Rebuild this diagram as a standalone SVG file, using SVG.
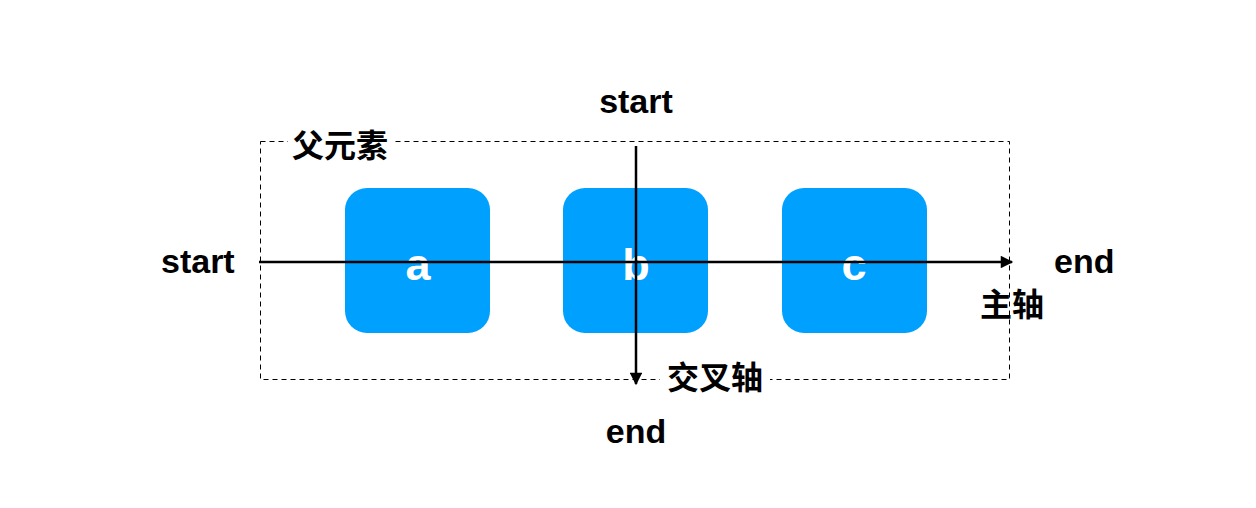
<svg xmlns="http://www.w3.org/2000/svg" width="1256" height="508" viewBox="0 0 1256 508">
<style>
.lbl{font-family:"Liberation Sans","Noto Sans CJK SC",sans-serif;font-weight:bold;fill:#000}
.big{font-size:34px}
.cjk{font-size:32px}
.box{fill:#00A0FF}
.letter{font-family:"Liberation Sans",sans-serif;font-weight:bold;font-size:45px;fill:#fff;text-anchor:middle}
.ax{stroke:#000;stroke-width:2.5;fill:none}
</style>
<defs>
<marker id="ah" viewBox="0 0 10 10" refX="9" refY="5" markerWidth="5.5" markerHeight="5" orient="auto" markerUnits="strokeWidth">
<path d="M0,0 L10,5 L0,10 z" fill="#000"/>
</marker>
</defs>
<rect width="1256" height="508" fill="#fff"/>
<g id="parent">
<rect x="260.5" y="141.5" width="749" height="238" fill="none" stroke="#000" stroke-width="1" stroke-dasharray="5,4"/>
<rect x="288" y="132" width="107" height="20" fill="#fff"/>
<text class="lbl cjk" x="292" y="157">父元素</text>
</g>
<g id="node-a"><rect class="box" x="345" y="188" width="145" height="145" rx="22"/><text class="letter" x="418" y="280">a</text></g>
<g id="node-b"><rect class="box" x="563" y="188" width="145" height="145" rx="22"/><text class="letter" x="636" y="280">b</text></g>
<g id="node-c"><rect class="box" x="782" y="188" width="145" height="145" rx="22"/><text class="letter" x="854" y="280">c</text></g>
<g id="connectors">
<line class="ax" x1="259" y1="262" x2="1012" y2="262" marker-end="url(#ah)"/>
<line class="ax" x1="636" y1="146" x2="636" y2="384" marker-end="url(#ah)"/>
</g>
<g id="labels">
<text class="lbl big" x="636" y="113" text-anchor="middle">start</text>
<text class="lbl big" x="161" y="273">start</text>
<text class="lbl big" x="1054" y="273">end</text>
<text class="lbl cjk" x="980" y="316">主轴</text>
<rect x="660" y="370" width="110" height="18" fill="#fff"/>
<text class="lbl cjk" x="667" y="389">交叉轴</text>
<text class="lbl big" x="636" y="443" text-anchor="middle">end</text>
</g>
</svg>
